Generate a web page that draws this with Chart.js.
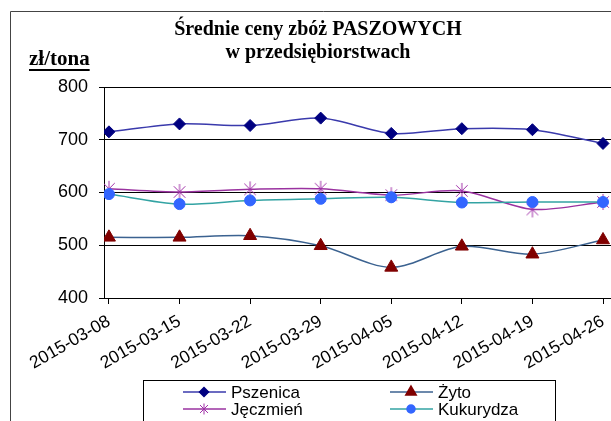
<!DOCTYPE html>
<html>
<head>
<meta charset="utf-8">
<script src="https://cdn.jsdelivr.net/npm/chart.js@4/dist/chart.umd.min.js"></script>
<style>
  html, body { margin: 0; padding: 0; background: #fff; overflow: hidden; }
  #wrap { position: relative; width: 611px; height: 421px; overflow: hidden; }
  #chart { position: absolute; left: 0; top: 0; }
</style>
</head>
<body>
<div id="wrap"><canvas id="chart" width="636" height="421"></canvas></div>
<script>
// tygodnie notowań
const dates = ["2015-03-08", "2015-03-15", "2015-03-22", "2015-03-29", "2015-04-05", "2015-04-12", "2015-04-19", "2015-04-26"];

// ceny w zł/tona
const pszenica = [715, 730, 727, 741, 712, 721, 719, 693];
const zyto = [515, 515, 518, 499, 458, 498, 483, 510];
const jeczmien = [607, 601, 606, 607, 595, 603, 568, 582];
const kukurydza = [597, 578, 585, 588, 591, 581, 582, 582];

const yTicks = [400, 500, 600, 700, 800];

const titleLines = ["Średnie ceny zbóż PASZOWYCH", "w przedsiębiorstwach"];
const unitLabel = "zł/tona";

const sansFont = '"Liberation Sans", Arial, sans-serif';
const serifFont = '"Liberation Serif", "Times New Roman", serif';

// gwiazdka jak w Excelu: pion + dwie przekątne
const drawStar = (g, x, y, r, color) => {
  const d = r * 0.72;
  g.save();
  g.strokeStyle = color;
  g.lineWidth = 1;
  g.beginPath();
  g.moveTo(x, y - r); g.lineTo(x, y + r);
  g.moveTo(x - d, y - d); g.lineTo(x + d, y + d);
  g.moveTo(x - d, y + d); g.lineTo(x + d, y - d);
  g.stroke();
  g.restore();
};

const starImage = (r, color) => {
  const c = document.createElement("canvas");
  c.width = c.height = Math.ceil(2 * r + 2);
  drawStar(c.getContext("2d"), c.width / 2, c.height / 2, r, color);
  return c;
};

const toPoints = (values) => values.map((v, i) => ({ x: i, y: v }));

const series = [
  { label: "Pszenica", values: pszenica, line: "#3a3aac", marker: "#000080", style: "rectRot", r: 6, lr: 4.5 },
  { label: "Żyto", values: zyto, line: "#3b6290", marker: "#800000", style: "triangle", r: 7.5, lr: 6 },
  { label: "Jęczmień", values: jeczmien, line: "#9a32a0", marker: "#a030a8", style: "star", r: 8, lr: 5.5 },
  { label: "Kukurydza", values: kukurydza, line: "#33a3a3", marker: "#3366ff", style: "circle", r: 5.5, lr: 4 }
];

const extras = {
  id: "extras",
  afterDraw(chart) {
    const ctx = chart.ctx;
    ctx.save();

    // ramka wykresu
    ctx.strokeStyle = "#444";
    ctx.lineWidth = 1;
    ctx.beginPath();
    ctx.moveTo(10.5, 440);
    ctx.lineTo(10.5, 11.5);
    ctx.lineTo(700, 11.5);
    ctx.stroke();

    // jednostka
    ctx.fillStyle = "#000";
    ctx.font = "bold 21px " + serifFont;
    ctx.textBaseline = "alphabetic";
    ctx.textAlign = "left";
    ctx.fillText(unitLabel, 29, 65);
    const w = ctx.measureText(unitLabel).width;
    ctx.fillRect(29, 69, w, 2);

    // legenda
    ctx.strokeStyle = "#000";
    ctx.strokeRect(143.5, 380.5, 412, 60);
    ctx.font = "17px " + sansFont;
    ctx.textBaseline = "middle";
    chart.data.datasets.forEach((ds, i) => {
      const s = series[i];
      const x0 = 183 + (i % 2) * 207;
      const y = 392 + Math.floor(i / 2) * 17;
      ctx.strokeStyle = ds.borderColor;
      ctx.lineWidth = 1.5;
      ctx.beginPath();
      ctx.moveTo(x0, y);
      ctx.lineTo(x0 + 43, y);
      ctx.stroke();
      if (s.style === "star") {
        drawStar(ctx, x0 + 21, y, s.lr, s.marker);
      } else {
        ctx.fillStyle = s.marker;
        ctx.strokeStyle = s.marker;
        Chart.helpers.drawPoint(ctx, { pointStyle: s.style, radius: s.lr, rotation: 0, borderWidth: 1 }, x0 + 21, y);
      }
      ctx.fillStyle = "#000";
      ctx.fillText(ds.label, x0 + 48, y + 1);
    });

    ctx.restore();
  }
};

new Chart(document.getElementById("chart"), {
  type: "line",
  data: {
    datasets: series.map((s, i) => ({
      label: s.label,
      data: toPoints(s.values),
      borderColor: s.line,
      borderWidth: 1.5,
      tension: 0.3,
      pointStyle: s.style === "star" ? starImage(s.r, s.marker) : s.style,
      pointRadius: s.r,
      pointBackgroundColor: s.marker,
      pointBorderColor: s.marker,
      pointBorderWidth: 1,
      order: [3, 2, 4, 1][i]
    }))
  },
  options: {
    responsive: false,
    animation: false,
    events: [],
    layout: { padding: 0 },
    plugins: {
      legend: { display: false },
      tooltip: { enabled: false },
      title: {
        display: true,
        text: titleLines,
        color: "#000",
        font: { family: serifFont, size: 20, weight: "bold", lineHeight: 1.15 },
        padding: { top: 18, bottom: 23 }
      }
    },
    scales: {
      x: {
        type: "linear",
        min: -0.07,
        max: 7.34,
        afterFit: (scale) => { scale.height = 123; },
        border: { color: "#000", width: 1 },
        grid: { drawOnChartArea: false, color: "#000", tickLength: 6 },
        ticks: {
          stepSize: 1,
          includeBounds: false,
          autoSkip: false,
          minRotation: 30,
          maxRotation: 30,
          padding: 7,
          color: "#000",
          font: { family: sansFont, size: 17.5 },
          callback: (v) => dates[v] ?? ""
        }
      },
      y: {
        min: yTicks[0],
        max: yTicks[yTicks.length - 1],
        afterFit: (scale) => { scale.width = 104; },
        border: { color: "#000", width: 1 },
        grid: { color: "#000", lineWidth: 1, tickLength: 5 },
        ticks: {
          stepSize: 100,
          padding: 11,
          color: "#000",
          font: { family: sansFont, size: 18 }
        }
      }
    }
  },
  plugins: [extras]
});
</script>
</body>
</html>
